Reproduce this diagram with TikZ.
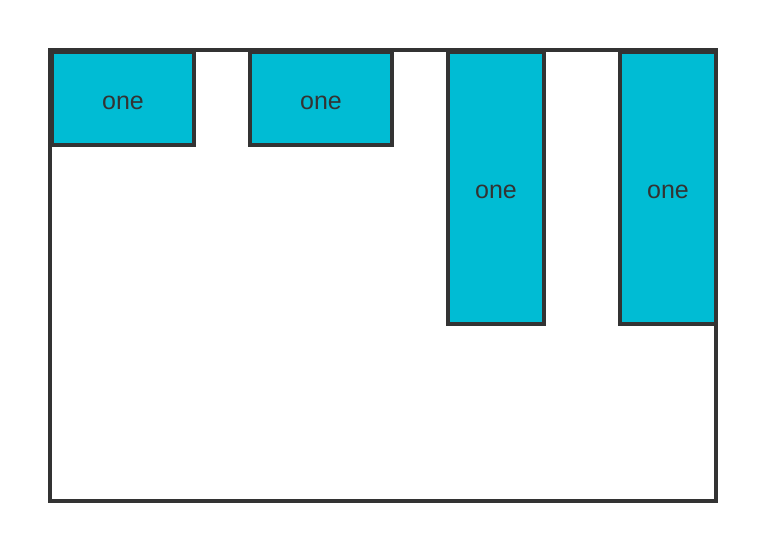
\documentclass[tikz,border=0pt]{standalone}
\usepackage{fontspec}
\setsansfont{Liberation Sans}
\usetikzlibrary{positioning}
\definecolor{ink}{HTML}{333333}
\definecolor{tile}{HTML}{00BCD4}
\tikzset{
  font=\sffamily,
  frame/.style={draw=ink, line width=3.6pt},
  cell/.style={draw=ink, line width=3.6pt, fill=tile, text=ink,
               inner sep=0pt, font=\sffamily\fontsize{25pt}{25pt}\selectfont,
               text height=21pt, text depth=0pt},
  wide/.style={cell, minimum width=142pt, minimum height=93pt},
  tall/.style={cell, minimum width=96pt, minimum height=272pt},
}
\begin{document}
\begin{tikzpicture}[x=1pt, y=-1pt]
\useasboundingbox (0,0) rectangle (766,552);

% ------------------------------------------------------------- container
\coordinate (tl) at (50,50);
\coordinate (br) at (716,501);
\draw[frame] (tl) rectangle (br);

% ----------------------------------------------------------------- items
\node[wide] (one1) at (123,98.5) {one};
\node[wide] (one2) at (321,98.5) {one};
\node[tall] (one3) at (496,188) {one};
\node[tall] (one4) at (668,188) {one};

\end{tikzpicture}
\end{document}
